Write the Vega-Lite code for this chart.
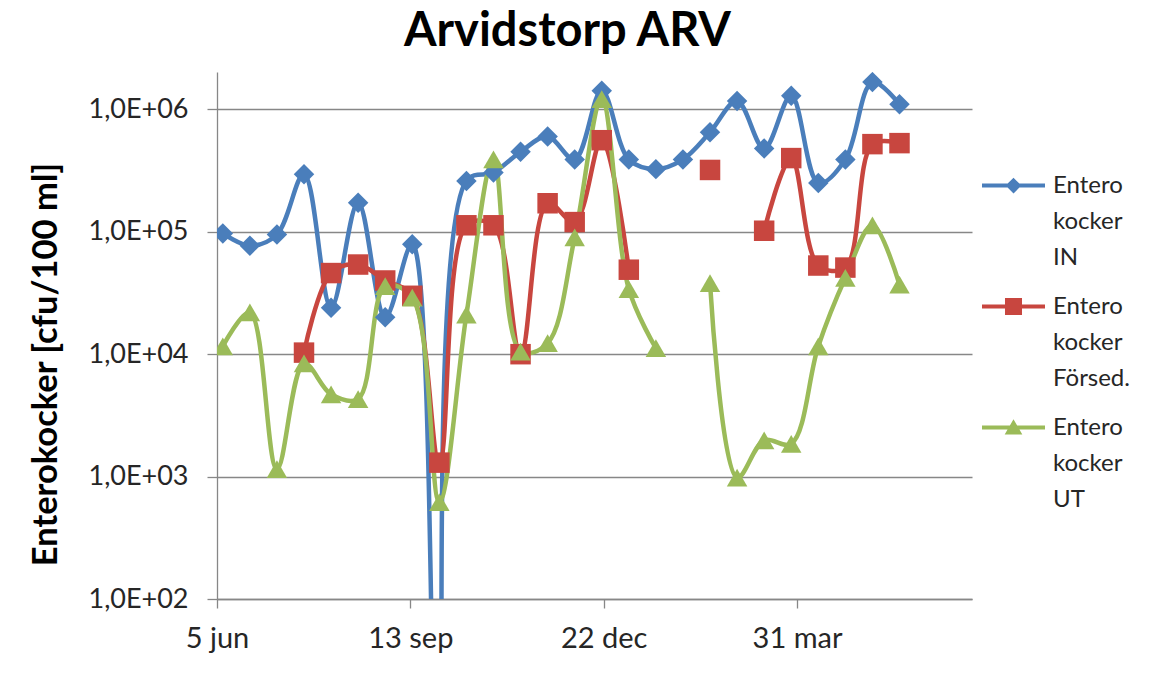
{
  "$schema": "https://vega.github.io/schema/vega-lite/v6.json",
  "width": 755,
  "height": 527,
  "autosize": {"type": "none"},
  "padding": {"left": 217, "top": 72, "right": 181, "bottom": 77},
  "background": "white",
  "config": {"font": "Lato", "view": {"stroke": null}},
  "title": {"text": "Arvidstorp ARV", "fontSize": 47, "fontWeight": "bold", "font": "Lato", "color": "#000000", "offset": 16, "dx": -27},
  "data": {"values": [
    {"date": "2011-06-08", "series": "Entero kocker IN", "value": 97000, "seg": 1},
    {"date": "2011-06-22", "series": "Entero kocker IN", "value": 77000, "seg": 1},
    {"date": "2011-07-06", "series": "Entero kocker IN", "value": 95000, "seg": 1},
    {"date": "2011-07-20", "series": "Entero kocker IN", "value": 295000, "seg": 1},
    {"date": "2011-08-03", "series": "Entero kocker IN", "value": 24000, "seg": 1},
    {"date": "2011-08-17", "series": "Entero kocker IN", "value": 173000, "seg": 1},
    {"date": "2011-08-31", "series": "Entero kocker IN", "value": 20000, "seg": 1},
    {"date": "2011-09-14", "series": "Entero kocker IN", "value": 79000, "seg": 1},
    {"date": "2011-09-28", "series": "Entero kocker IN", "value": 0.3, "seg": 1},
    {"date": "2011-10-12", "series": "Entero kocker IN", "value": 260000, "seg": 1},
    {"date": "2011-10-26", "series": "Entero kocker IN", "value": 305000, "seg": 1},
    {"date": "2011-11-09", "series": "Entero kocker IN", "value": 450000, "seg": 1},
    {"date": "2011-11-23", "series": "Entero kocker IN", "value": 600000, "seg": 1},
    {"date": "2011-12-07", "series": "Entero kocker IN", "value": 390000, "seg": 1},
    {"date": "2011-12-21", "series": "Entero kocker IN", "value": 1420000, "seg": 1},
    {"date": "2012-01-04", "series": "Entero kocker IN", "value": 390000, "seg": 1},
    {"date": "2012-01-18", "series": "Entero kocker IN", "value": 325000, "seg": 1},
    {"date": "2012-02-01", "series": "Entero kocker IN", "value": 390000, "seg": 1},
    {"date": "2012-02-15", "series": "Entero kocker IN", "value": 650000, "seg": 1},
    {"date": "2012-02-29", "series": "Entero kocker IN", "value": 1170000, "seg": 1},
    {"date": "2012-03-14", "series": "Entero kocker IN", "value": 480000, "seg": 1},
    {"date": "2012-03-28", "series": "Entero kocker IN", "value": 1290000, "seg": 1},
    {"date": "2012-04-11", "series": "Entero kocker IN", "value": 250000, "seg": 1},
    {"date": "2012-04-25", "series": "Entero kocker IN", "value": 390000, "seg": 1},
    {"date": "2012-05-09", "series": "Entero kocker IN", "value": 1670000, "seg": 1},
    {"date": "2012-05-23", "series": "Entero kocker IN", "value": 1100000, "seg": 1},

    {"date": "2011-07-20", "series": "Entero kocker Försed.", "value": 10300, "seg": 1},
    {"date": "2011-08-03", "series": "Entero kocker Försed.", "value": 46000, "seg": 1},
    {"date": "2011-08-17", "series": "Entero kocker Försed.", "value": 54000, "seg": 1},
    {"date": "2011-08-31", "series": "Entero kocker Försed.", "value": 40000, "seg": 1},
    {"date": "2011-09-14", "series": "Entero kocker Försed.", "value": 30000, "seg": 1},
    {"date": "2011-09-28", "series": "Entero kocker Försed.", "value": 1300, "seg": 1},
    {"date": "2011-10-12", "series": "Entero kocker Försed.", "value": 113000, "seg": 1},
    {"date": "2011-10-26", "series": "Entero kocker Försed.", "value": 113000, "seg": 1},
    {"date": "2011-11-09", "series": "Entero kocker Försed.", "value": 10000, "seg": 1},
    {"date": "2011-11-23", "series": "Entero kocker Försed.", "value": 171000, "seg": 1},
    {"date": "2011-12-07", "series": "Entero kocker Försed.", "value": 120000, "seg": 1},
    {"date": "2011-12-21", "series": "Entero kocker Försed.", "value": 560000, "seg": 1},
    {"date": "2012-01-04", "series": "Entero kocker Försed.", "value": 49000, "seg": 1},
    {"date": "2012-02-15", "series": "Entero kocker Försed.", "value": 320000, "seg": 2},
    {"date": "2012-03-14", "series": "Entero kocker Försed.", "value": 102000, "seg": 3},
    {"date": "2012-03-28", "series": "Entero kocker Försed.", "value": 400000, "seg": 3},
    {"date": "2012-04-11", "series": "Entero kocker Försed.", "value": 53000, "seg": 3},
    {"date": "2012-04-25", "series": "Entero kocker Försed.", "value": 51000, "seg": 3},
    {"date": "2012-05-09", "series": "Entero kocker Försed.", "value": 520000, "seg": 3},
    {"date": "2012-05-23", "series": "Entero kocker Försed.", "value": 530000, "seg": 3},

    {"date": "2011-06-08", "series": "Entero kocker UT", "value": 11600, "seg": 1},
    {"date": "2011-06-22", "series": "Entero kocker UT", "value": 22000, "seg": 1},
    {"date": "2011-07-06", "series": "Entero kocker UT", "value": 1150, "seg": 1},
    {"date": "2011-07-20", "series": "Entero kocker UT", "value": 8400, "seg": 1},
    {"date": "2011-08-03", "series": "Entero kocker UT", "value": 4700, "seg": 1},
    {"date": "2011-08-17", "series": "Entero kocker UT", "value": 4300, "seg": 1},
    {"date": "2011-08-31", "series": "Entero kocker UT", "value": 36000, "seg": 1},
    {"date": "2011-09-14", "series": "Entero kocker UT", "value": 29000, "seg": 1},
    {"date": "2011-09-28", "series": "Entero kocker UT", "value": 620, "seg": 1},
    {"date": "2011-10-12", "series": "Entero kocker UT", "value": 21000, "seg": 1},
    {"date": "2011-10-26", "series": "Entero kocker UT", "value": 390000, "seg": 1},
    {"date": "2011-11-09", "series": "Entero kocker UT", "value": 10500, "seg": 1},
    {"date": "2011-11-23", "series": "Entero kocker UT", "value": 12300, "seg": 1},
    {"date": "2011-12-07", "series": "Entero kocker UT", "value": 90000, "seg": 1},
    {"date": "2011-12-21", "series": "Entero kocker UT", "value": 1210000, "seg": 1},
    {"date": "2012-01-04", "series": "Entero kocker UT", "value": 34000, "seg": 1},
    {"date": "2012-01-18", "series": "Entero kocker UT", "value": 11200, "seg": 1},
    {"date": "2012-02-15", "series": "Entero kocker UT", "value": 38000, "seg": 2},
    {"date": "2012-02-29", "series": "Entero kocker UT", "value": 980, "seg": 2},
    {"date": "2012-03-14", "series": "Entero kocker UT", "value": 1980, "seg": 2},
    {"date": "2012-03-28", "series": "Entero kocker UT", "value": 1850, "seg": 2},
    {"date": "2012-04-11", "series": "Entero kocker UT", "value": 11600, "seg": 2},
    {"date": "2012-04-25", "series": "Entero kocker UT", "value": 42000, "seg": 2},
    {"date": "2012-05-09", "series": "Entero kocker UT", "value": 113000, "seg": 2},
    {"date": "2012-05-23", "series": "Entero kocker UT", "value": 37000, "seg": 2}
  ]},
  "encoding": {
    "x": {
      "field": "date", "type": "temporal",
      "scale": {"type": "utc", "nice": false, "domain": [{"year": 2011, "month": 6, "date": 5, "utc": true}, {"year": 2012, "month": 6, "date": 29, "hours": 12, "utc": true}]},
      "axis": {
        "title": null,
        "values": [{"year": 2011, "month": 6, "date": 5, "utc": true}, {"year": 2011, "month": 9, "date": 13, "utc": true}, {"year": 2011, "month": 12, "date": 22, "utc": true}, {"year": 2012, "month": 3, "date": 31, "utc": true}],
        "labelExpr": "lower(utcFormat(datum.value, '%-d %b'))",
        "grid": false, "labelFlush": false, "labelOverlap": false,
        "domainColor": "#878787", "domainWidth": 1.3,
        "tickColor": "#878787", "tickWidth": 1.3, "tickSize": 9,
        "labelPadding": 16, "labelFontSize": 29, "labelColor": "#262626", "labelFont": "Lato"
      }
    },
    "y": {
      "field": "value", "type": "quantitative",
      "scale": {"type": "log", "nice": false, "domain": [100, 2020000]},
      "axis": {
        "title": "Enterokocker [cfu/100 ml]",
        "values": [100, 1000, 10000, 100000, 1000000],
        "labelExpr": "'1,0E+0' + round(log(datum.value) / LN10)",
        "grid": true, "gridColor": "#878787", "gridWidth": 1.3,
        "domainColor": "#878787", "domainWidth": 1.3,
        "tickColor": "#878787", "tickWidth": 1.3, "tickSize": 10,
        "labelPadding": 19, "labelFontSize": 27, "labelColor": "#262626", "labelFont": "Lato",
        "titleFontSize": 34.5, "titleFont": "Lato", "titleFontWeight": "bold", "titleColor": "#000000",
        "titlePadding": 24, "titleY": 292
      }
    },
    "color": {
      "field": "series", "type": "nominal",
      "scale": {"domain": ["Entero kocker IN", "Entero kocker Försed.", "Entero kocker UT"], "range": ["#4A7EBB", "#C8463F", "#9BBB59"]},
      "legend": {
        "title": null, "orient": "none", "legendX": 765, "legendY": 82, "padding": 0,
        "symbolSize": 3969, "symbolStrokeWidth": 0, "labelOffset": 8, "labelFontSize": 24, "labelColor": "#262626", "labelFont": "Lato",
        "labelBaseline": "middle", "labelLimit": 300, "rowPadding": 5,
        "labelExpr": "split(datum.label, ' ')",
        "encode": {
          "symbols": {"update": {
            "shape": {"signal": "indexof(datum.value, 'IN') >= 0 ? 'M-1,-0.065L1,-0.065L1,0.065L-1,0.065Z M0,-0.25L0.25,0L0,0.25L-0.25,0Z' : (indexof(datum.value, 'UT') >= 0 ? 'M-1,-0.065L1,-0.065L1,0.065L-1,0.065Z M0,-0.26L0.28,0.22L-0.28,0.22Z' : 'M-1,-0.065L1,-0.065L1,0.065L-1,0.065Z M-0.27,-0.27L0.27,-0.27L0.27,0.27L-0.27,0.27Z')"},
            "size": {"value": 3969},
            "strokeWidth": {"value": 0},
            "opacity": {"value": 1}
          }},
          "labels": {"update": {"lineHeight": {"value": 36}}}
        }
      }
    }
  },
  "layer": [
    {
      "mark": {"type": "line", "interpolate": "catmull-rom", "strokeWidth": 4.5, "clip": true},
      "encoding": {"detail": {"field": "seg", "type": "nominal"}}
    },
    {
      "mark": {"type": "point", "filled": true, "opacity": 1, "size": 420, "clip": true},
      "encoding": {
        "shape": {"field": "series", "type": "nominal", "scale": {"domain": ["Entero kocker IN", "Entero kocker Försed.", "Entero kocker UT", "-"], "range": ["diamond", "square", "triangle-up", "circle"]}, "legend": null}
      }
    }
  ]
}
